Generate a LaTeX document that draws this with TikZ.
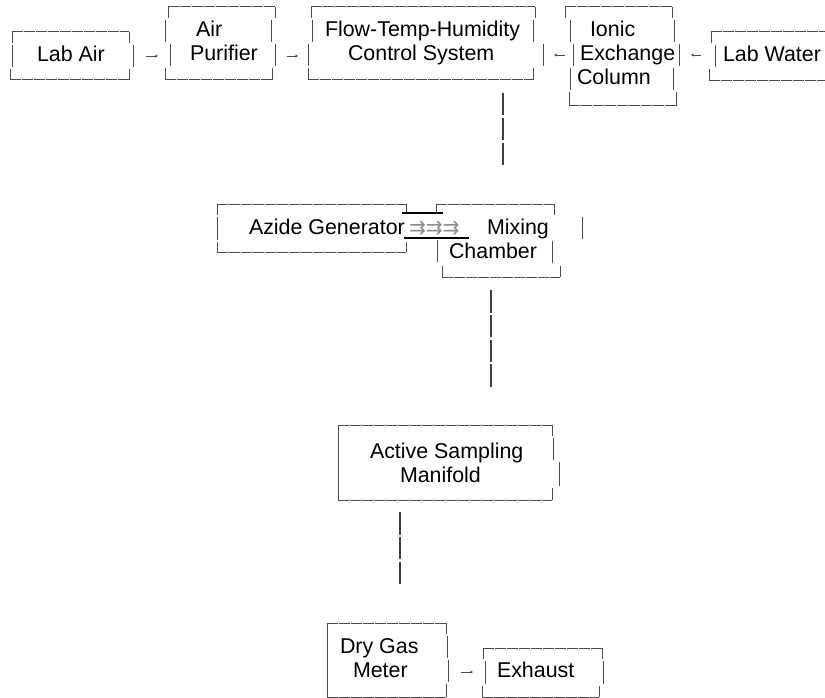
\documentclass[tikz,border=0pt]{standalone}
\usepackage{fontspec}
\setmainfont{Liberation Sans}
\newfontfamily\arrowfont{DejaVu Sans}
\usetikzlibrary{arrows.meta}

\begin{document}
\begin{tikzpicture}[
  x=1pt, y=-1pt,
  every node/.style={inner sep=0pt, outer sep=0pt, anchor=base west, font=\fontsize{21.4}{24}\selectfont},
  frame/.style={draw=black!70, line width=1pt, dash pattern=on 11pt off 1pt},
  side/.style={draw=black!70, line width=1pt},
  link/.style={draw=black!75, line width=1.3pt, dash pattern=on 22.5pt off 2.3pt},
  flow/.style={draw=black!70, line width=0.7pt, -{Stealth[length=3pt,width=3pt]}},
  joint/.style={draw=black, line width=2pt},
  feed/.style={text=black!45, font=\arrowfont\fontsize{20}{24}\selectfont}
]
\useasboundingbox (0,0) rectangle (825,698);

% Ligne du haut
\node (labair) at (37,62) {Lab Air};
\draw[frame] (12,32) -- (129,32) (10,80) -- (129,80);
\draw[side] (12,32) -- (12,43) (12,45) -- (12,67) (10,69) -- (10,80);
\draw[side] (129,32) -- (129,43) (133,45) -- (133,67) (129,69) -- (129,80);

\node (air) at (196,37) {Air};
\node (purifier) at (190,61) {Purifier};
\draw[frame] (168,7) -- (275,7) (165,80) -- (272,80);
\draw[side] (168,7) -- (168,18) (165,20) -- (165,42) (170,44) -- (170,66) (165,68) -- (165,80);
\draw[side] (275,7) -- (275,18) (271,20) -- (271,42) (275,44) -- (275,66) (272,68) -- (272,80);

\node (flow) at (325,37) {Flow-Temp-Humidity};
\node (control) at (348,61) {Control System};
\draw[frame] (311,7) -- (535,7) (308,80) -- (533,80);
\draw[side] (311,7) -- (311,18) (312,20) -- (312,42) (308,44) -- (308,66) (308,68) -- (308,80);
\draw[side] (535,7) -- (535,18) (533,20) -- (533,42) (543,44) -- (543,66) (533,68) -- (533,80);

\node (ionic) at (590,37) {Ionic};
\node (exchange) at (580,61) {Exchange};
\node (column) at (577,85) {Column};
\draw[frame] (565,7) -- (672,7) (569,106) -- (676,106);
\draw[side] (565,7) -- (565,18) (570,20) -- (570,42) (573,44) -- (573,66) (570,68) -- (570,90) (569,92) -- (569,106);
\draw[side] (672,7) -- (672,18) (674,20) -- (674,42) (679,44) -- (679,66) (673,68) -- (673,90) (676,92) -- (676,106);

\node (labwater) at (723,62) {Lab Water};
\draw[frame] (711,32) -- (830,32) (709,81) -- (830,81);
\draw[side] (711,32) -- (711,43) (715,45) -- (715,67) (709,69) -- (709,81);

% fleches
\coordinate (labair-out) at (146,56);
\coordinate (purifier-in) at (158,56);
\coordinate (purifier-out) at (287,56);
\coordinate (flow-in) at (298,56);
\coordinate (ionic-out) at (565,55);
\coordinate (control-in) at (554,55);
\coordinate (labwater-out) at (701,55);
\coordinate (ionic-in) at (691,55);
\draw[flow] (labair-out) -- (purifier-in);
\draw[flow] (purifier-out) -- (flow-in);
\draw[flow] (ionic-out) -- (control-in);
\draw[flow] (labwater-out) -- (ionic-in);

% Generateur et chambre
\node (azide) at (249,234) {Azide Generator};
\draw[frame] (217,204) -- (406,204) (217,252) -- (406,252);
\draw[side] (217,204) -- (217,215) (217,217) -- (217,240) (217,242) -- (217,252);
\draw[side] (406,204) -- (406,214) (406,242) -- (406,252);

\draw[joint] (402,213) -- (443,213) (404,238) -- (469,238);
\node[feed] (feed) at (409,234) {⇉⇉⇉};

\node (mixing) at (487,234) {Mixing};
\node (chamber) at (449,258) {Chamber};
\draw[frame] (436,204) -- (554,204) (442,277) -- (560,277);
\draw[side] (436,204) -- (436,214) (437,240) -- (437,262) (442,266) -- (442,277);
\draw[side] (554,204) -- (554,215) (582,217) -- (582,239) (552,241) -- (552,263) (560,266) -- (560,277);

% Echantillonnage
\node (active) at (370,458) {Active Sampling};
\node (manifold) at (400,482) {Manifold};
\draw[frame] (338,425) -- (552,425) (338,500) -- (552,500);
\draw[side] (338,425) -- (338,500);
\draw[side] (552,425) -- (552,436) (553,438) -- (553,460) (559,462) -- (559,486) (552,488) -- (552,500);

% Compteur et sortie
\node (drygas) at (340,653) {Dry Gas};
\node (meter) at (353,677) {Meter};
\draw[frame] (327,623) -- (446,623) (327,697) -- (446,697);
\draw[side] (327,623) -- (327,697);
\draw[side] (446,623) -- (446,634) (447,636) -- (447,658) (448,660) -- (448,682) (446,684) -- (446,697);

\node (exhaust) at (497,677) {Exhaust};
\draw[frame] (483,648) -- (602,648) (482,697) -- (599,697);
\draw[side] (483,648) -- (483,659) (485,661) -- (485,684) (482,686) -- (482,697);
\draw[side] (602,648) -- (602,659) (603,661) -- (603,684) (599,686) -- (599,697);

\coordinate (meter-out) at (461,672);
\coordinate (exhaust-in) at (473,672);
\draw[flow] (meter-out) -- (exhaust-in);

% liaisons verticales
\coordinate (control-down) at (503,93);
\coordinate (mixing-up) at (503,165);
\coordinate (chamber-down) at (491,290);
\coordinate (active-up) at (491,387);
\coordinate (manifold-down) at (400,512);
\coordinate (drygas-up) at (400,584);
\draw[link] (control-down) -- (mixing-up);
\draw[link] (chamber-down) -- (active-up);
\draw[link] (manifold-down) -- (drygas-up);
\end{tikzpicture}
\end{document}
